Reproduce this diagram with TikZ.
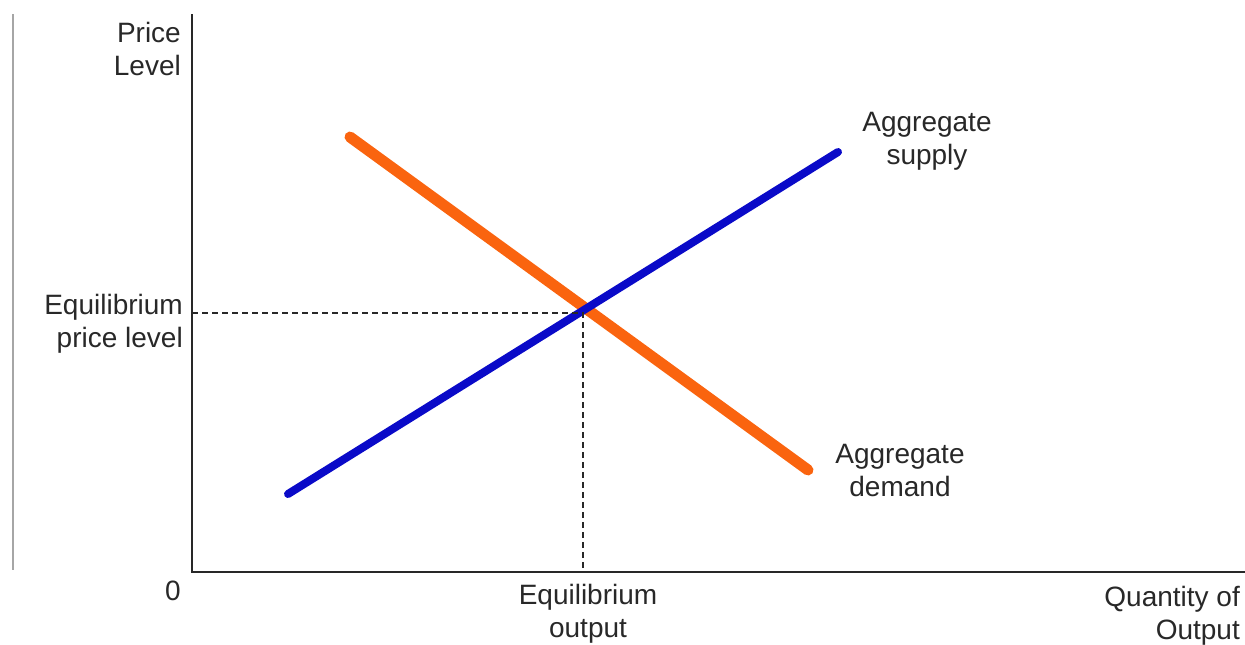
\documentclass[tikz,border=0pt]{standalone}
\usepackage{fontspec}
\setmainfont{Liberation Sans}
\definecolor{supplyblue}{RGB}{10,10,200}
\definecolor{demandorange}{RGB}{250,100,15}
\definecolor{axisgray}{RGB}{40,40,40}
\tikzset{
  lbl/.style={font=\fontsize{28}{33}\selectfont, text=axisgray, inner sep=0pt},
  guide/.style={axisgray, line width=1.2pt, dash pattern=on 6pt off 4pt},
}
\begin{document}
\begin{tikzpicture}[x=1pt,y=-1pt]
            \useasboundingbox (0,0) rectangle (1245,645);
            % frame and axes
            \draw[gray!70,line width=1.6pt] (13,14) -- (13,570);
            \coordinate (top) at (192,14);
            \coordinate (origin) at (192,572);
            \coordinate (right) at (1245,572);
            \draw[axisgray,line width=2pt] (top) -- (origin) -- (right);
            % curves
            \coordinate (as1) at (288,494);
            \coordinate (as2) at (838,152);
            \coordinate (ad1) at (350,137);
            \coordinate (ad2) at (808,470);
            \coordinate (eq) at (583,313);
            \draw[demandorange,line width=11pt,line cap=round] (ad1) -- (ad2);
            \draw[supplyblue,line width=8pt,line cap=round] (as1) -- (as2);
            % equilibrium guides
            \coordinate (eqy) at (origin |- eq);
            \coordinate (eqx) at (eq |- origin);
            \draw[guide] (eqy) -- (eq) -- (eqx);
            % labels
            \node[lbl,anchor=north east,align=right] (price) at (181,22) {Price\\Level};
            \node[lbl,anchor=north east,align=right] (eqprice) at (183,294) {Equilibrium\\price level};
            \node[lbl,anchor=north] (zero) at (173,581) {0};
            \node[lbl,anchor=north,align=center] (eqout) at (588,584) {Equilibrium\\output};
            \node[lbl,anchor=north east,align=right] (qty) at (1240,586) {Quantity of\\Output};
            \node[lbl,anchor=north,align=center] (aslbl) at (927,112) {Aggregate\\supply};
            \node[lbl,anchor=north,align=center] (adlbl) at (900,444) {Aggregate\\demand};
        \end{tikzpicture}
\end{document}
